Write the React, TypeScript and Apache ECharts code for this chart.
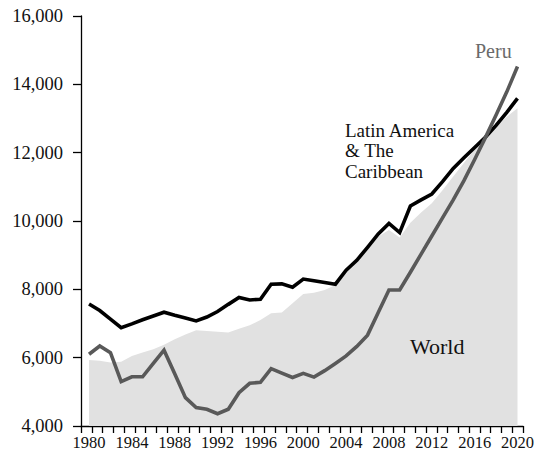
import React, { useEffect, useRef } from "react";
import * as echarts from "echarts";

const years: number[] = [
  1980, 1981, 1982, 1983, 1984, 1985, 1986, 1987, 1988, 1989,
  1990, 1991, 1992, 1993, 1994, 1995, 1996, 1997, 1998, 1999,
  2000, 2001, 2002, 2003, 2004, 2005, 2006, 2007, 2008, 2009,
  2010, 2011, 2012, 2013, 2014, 2015, 2016, 2017, 2018, 2019, 2020,
];

const worldValues: number[] = [
  5930, 5910, 5860, 5880, 6050, 6150, 6250, 6380, 6540, 6680,
  6800, 6780, 6760, 6740, 6850, 6950, 7100, 7300, 7320, 7590,
  7860, 7900, 7980, 8130, 8600, 8950, 9300, 9550, 9740, 9520,
  9950, 10250, 10520, 10900, 11300, 11700, 12100, 12450, 12750, 13050, 13300,
];

const latamValues: number[] = [
  7570, 7380, 7130, 6880, 6990, 7110, 7220, 7330, 7240, 7160,
  7075, 7190, 7350, 7560, 7760, 7690, 7710, 8150, 8160, 8060,
  8300, 8250, 8200, 8150, 8560, 8850, 9230, 9620, 9930, 9660,
  10440, 10620, 10790, 11150, 11540, 11850, 12150, 12450, 12800, 13180, 13590,
];

const peruValues: number[] = [
  6100, 6340, 6145, 5300, 5440, 5440, 5830, 6220, 5530, 4830,
  4540, 4490, 4360, 4490, 4975, 5250, 5280, 5680, 5550, 5420,
  5540, 5430, 5620, 5830, 6050, 6330, 6660, 7320, 7980, 7980,
  8500, 9030, 9560, 10090, 10620, 11180, 11800, 12440, 13100, 13780, 14520,
];

const xLabelValues: number[] = [1980, 1984, 1988, 1992, 1996, 2000, 2004, 2008, 2012, 2016, 2020];
const yTicks: number[] = [4000, 6000, 8000, 10000, 12000, 14000, 16000];

const FONT = "Liberation Serif";
const XMIN = 1979.25;
const XMAX = 2020.52;

export default function App() {
  const ref = useRef<HTMLDivElement>(null);

  useEffect(() => {
    if (!ref.current) return;
    const chart = echarts.init(ref.current, undefined, { renderer: "svg" });
    const pair = (vals: number[]) => years.map((y, i) => [y, vals[i]]);
    const tickVals = Array.from({ length: 42 }, (_, k) => XMIN + (k * (XMAX - XMIN)) / 41);

    chart.setOption({
      animation: false,
      backgroundColor: "#ffffff",
      grid: { left: 81, right: 7, top: 16, bottom: 29, containLabel: false },
      xAxis: {
        type: "value",
        min: XMIN,
        max: XMAX,
        splitLine: { show: false },
        axisLine: { show: true, onZero: false, lineStyle: { color: "#000", width: 1.3 } },
        axisTick: {
          show: true,
          length: 7,
          lineStyle: { color: "#000", width: 1.3 },
          customValues: tickVals,
        },
        axisLabel: {
          customValues: xLabelValues,
          formatter: (v: number) => String(Math.round(v)),
          fontFamily: FONT,
          fontSize: 16.5,
          color: "#111",
          margin: 8,
        },
      },
      yAxis: {
        type: "value",
        min: yTicks[0],
        max: yTicks[yTicks.length - 1],
        interval: 2000,
        splitLine: { show: false },
        axisLine: { show: true, lineStyle: { color: "#000", width: 1.3 } },
        axisTick: { show: true, length: 8, lineStyle: { color: "#000", width: 1.3 } },
        axisLabel: {
          formatter: (v: number) => v.toLocaleString("en-US"),
          fontFamily: FONT,
          fontSize: 18.5,
          color: "#111",
          margin: 18,
        },
      },
      series: [
        {
          name: "World",
          type: "line",
          data: pair(worldValues),
          showSymbol: false,
          lineStyle: { width: 0, color: "#e1e1e1" },
          itemStyle: { color: "#e1e1e1" },
          areaStyle: { color: "#e1e1e1", opacity: 1, origin: "start" },
          z: 1,
        },
        {
          name: "Latin America & The Caribbean",
          type: "line",
          data: pair(latamValues),
          showSymbol: false,
          lineStyle: { width: 3.6, color: "#000000", join: "miter" },
          itemStyle: { color: "#000" },
          z: 3,
        },
        {
          name: "Peru",
          type: "line",
          data: pair(peruValues),
          showSymbol: false,
          lineStyle: { width: 3.6, color: "#595959", join: "miter" },
          itemStyle: { color: "#595959" },
          z: 4,
        },
      ],
      graphic: [
        {
          type: "text",
          left: 475,
          top: 41,
          z: 100,
          style: { text: "Peru", fontFamily: FONT, fontSize: 20, fill: "#6a6a6a" },
        },
        {
          type: "text",
          left: 345,
          top: 120,
          z: 100,
          style: {
            text: "Latin America\n& The\nCaribbean",
            fontFamily: FONT,
            fontSize: 19,
            fill: "#111",
            lineHeight: 20.5,
          },
        },
        {
          type: "text",
          left: 410,
          top: 335,
          z: 100,
          style: { text: "World", fontFamily: FONT, fontSize: 22, fill: "#111" },
        },
      ],
    });
    return () => chart.dispose();
  }, []);

  return (
    <div
      ref={ref}
      style={{ position: "fixed", left: 0, top: 0, width: 537, height: 455, background: "#fff" }}
    />
  );
}
